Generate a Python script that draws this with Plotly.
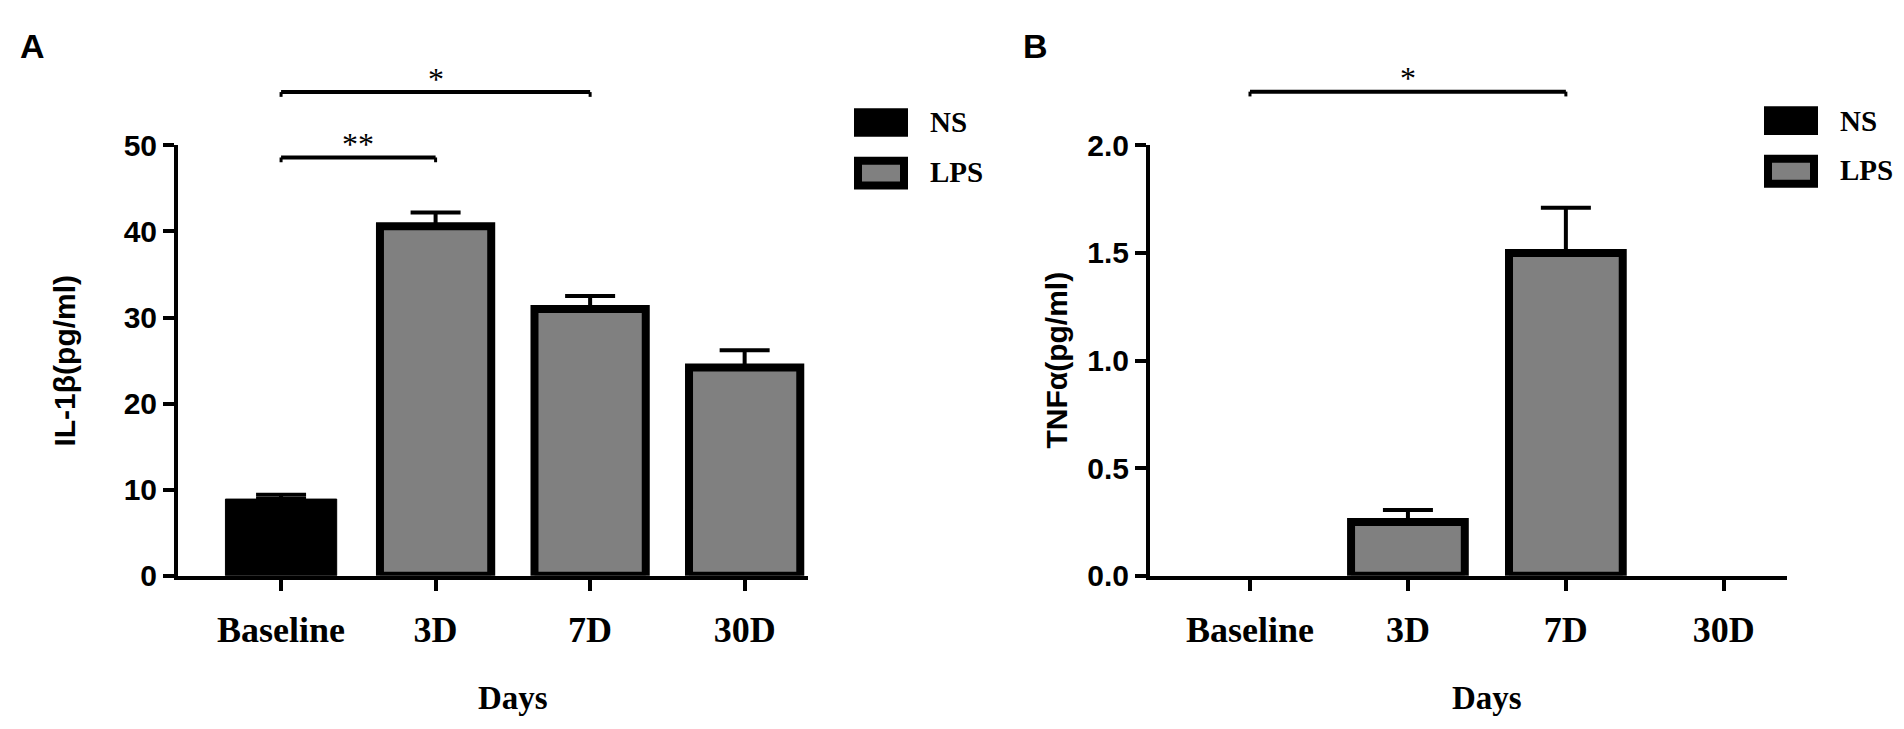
import plotly.graph_objects as go

categories = ["Baseline", "3D", "7D", "30D"]
groups = ["NS", "LPS"]

# panel A, IL-1beta (pg/ml)
il1b_ns = [8.9, None, None, None]
il1b_ns_err = [0.5, 0, 0, 0]
il1b_lps = [None, 40.6, 31.0, 24.2]
il1b_lps_err = [0, 1.6, 1.5, 2.0]

# panel B, TNF-alpha (pg/ml)
tnf_ns = [None, None, None, None]
tnf_ns_err = [0, 0, 0, 0]
tnf_lps = [None, 0.25, 1.5, None]
tnf_lps_err = [0, 0.055, 0.21, 0]

# significance brackets: (from, to, label, level in axis units)
sig_a = [("Baseline", "7D", "*", 56.2), ("Baseline", "3D", "**", 48.6)]
sig_b = [("Baseline", "7D", "*", 2.25)]

W, H = 1904, 729
GREY = "#808080"
SANS = "Liberation Sans"
SERIF = "Liberation Serif"

# plot boxes in pixels (left, right, top, bottom)
box_a = (170, 800, 127, 577)
box_b = (1142, 1779, 127, 577)


def fx(x):
    return x / W


def fy(y):
    return 1 - y / H


ydom = [fy(box_a[3]), fy(box_a[2])]

fig = go.Figure()

panels = [
    ("x", "y", il1b_ns, il1b_ns_err, il1b_lps, il1b_lps_err),
    ("x2", "y2", tnf_ns, tnf_ns_err, tnf_lps, tnf_lps_err),
]
for xa, ya, ns, ns_err, lps, lps_err in panels:
    fig.add_trace(go.Bar(
        x=categories, y=ns, name=groups[0], xaxis=xa, yaxis=ya,
        width=0.72, marker=dict(color="black", line=dict(color="black", width=1)),
        error_y=dict(type="data", array=ns_err, arrayminus=[0] * 4, symmetric=False,
                     color="black", thickness=4, width=25),
        showlegend=False,
    ))
    fig.add_trace(go.Bar(
        x=categories, y=lps, name=groups[1], xaxis=xa, yaxis=ya,
        width=0.72, marker=dict(color=GREY, line=dict(color="black", width=8)),
        error_y=dict(type="data", array=lps_err, arrayminus=[0] * 4, symmetric=False,
                     color="black", thickness=4, width=25),
        showlegend=False,
    ))

axis_style = dict(
    showline=True, linecolor="black", linewidth=4,
    ticks="outside", ticklen=11, tickwidth=4, tickcolor="black",
    showgrid=False, zeroline=False, fixedrange=True,
)
xfont = dict(family=SERIF, size=36, color="black", weight="bold")
yfont = dict(family=SANS, size=30, color="black", weight="bold")

fig.update_layout(
    width=W, height=H,
    margin=dict(l=0, r=0, t=0, b=0),
    plot_bgcolor="white", paper_bgcolor="white",
    barmode="overlay",
    xaxis=dict(domain=[fx(box_a[0]), fx(box_a[1])], range=[-0.667, 3.41],
               anchor="y", tickfont=xfont, ticklabelstandoff=8, **axis_style),
    yaxis=dict(domain=ydom, range=[0, 50], dtick=10, anchor="x",
               tickfont=yfont, **axis_style),
    xaxis2=dict(domain=[fx(box_b[0]), fx(box_b[1])], range=[-0.633, 3.4],
                anchor="y2", tickfont=xfont, ticklabelstandoff=8, **axis_style),
    yaxis2=dict(domain=ydom, range=[0, 2], dtick=0.5, tickformat=".1f", anchor="x2",
                tickfont=yfont, **axis_style),
)


def level_px(v, rng, box):
    # axis value -> pixel row, through the y scale of the panel
    return box[3] - (v - rng[0]) / (rng[1] - rng[0]) * (box[3] - box[2])


shapes = []
annotations = []
for xa, rng, box, sigs in [("x", [0, 50], box_a, sig_a), ("x2", [0, 2], box_b, sig_b)]:
    for a, b, label, lvl in sigs:
        yp = level_px(lvl, rng, box)
        shapes.append(dict(type="line", xref=xa, yref="paper", x0=a, x1=b,
                           y0=fy(yp), y1=fy(yp), line=dict(color="black", width=4)))
        for end in (a, b):
            shapes.append(dict(type="line", xref=xa, yref="paper", x0=end, x1=end,
                               y0=fy(yp), y1=fy(yp + 5), line=dict(color="black", width=3)))
        ia, ib = categories.index(a), categories.index(b)
        annotations.append(dict(text=label, xref=xa, yref="paper", x=(ia + ib) / 2,
                                y=fy(yp - 14), showarrow=False, xanchor="center",
                                yanchor="middle",
                                font=dict(family=SERIF, size=32, color="black")))

# hand-drawn legends, one per panel
for lx, ly in [(846, 88), (1756, 86)]:
    shapes.append(dict(type="rect", xref="paper", yref="paper",
                       x0=fx(lx), x1=fx(lx + 54), y0=fy(ly), y1=fy(ly + 30),
                       fillcolor="black", line=dict(width=0)))
    shapes.append(dict(type="rect", xref="paper", yref="paper",
                       x0=fx(lx + 4), x1=fx(lx + 50), y0=fy(ly + 55), y1=fy(ly + 81),
                       fillcolor=GREY, line=dict(color="black", width=8)))
    for k, name in enumerate(groups):
        annotations.append(dict(text=name, xref="paper", yref="paper",
                                x=fx(lx + 74), y=fy(ly + 15 + k * 52),
                                xanchor="left", yanchor="middle", showarrow=False,
                                font=dict(family=SERIF, size=29, color="black", weight="bold")))

# panel letters
for letter, lx in [("A", 24), ("B", 1027)]:
    annotations.append(dict(text=letter, xref="paper", yref="paper", x=fx(lx), y=fy(23),
                            xanchor="center", yanchor="middle", showarrow=False,
                            font=dict(family=SANS, size=34, color="black", weight="bold")))

# axis titles
for title, tx in [("IL-1β(pg/ml)", 57), ("TNFα(pg/ml)", 1049)]:
    annotations.append(dict(text=title, xref="paper", yref="paper", x=fx(tx),
                            y=fy(352), textangle=-90, showarrow=False,
                            xanchor="center", yanchor="middle",
                            font=dict(family=SANS, size=30, color="black", weight="bold")))
for xa in ["x", "x2"]:
    annotations.append(dict(text="Days", xref=xa, yref="paper", x=1.5, y=fy(705),
                            showarrow=False, xanchor="center", yanchor="middle",
                            font=dict(family=SERIF, size=33, color="black", weight="bold")))

fig.update_layout(shapes=shapes, annotations=annotations)

fig.write_html("out.html")
